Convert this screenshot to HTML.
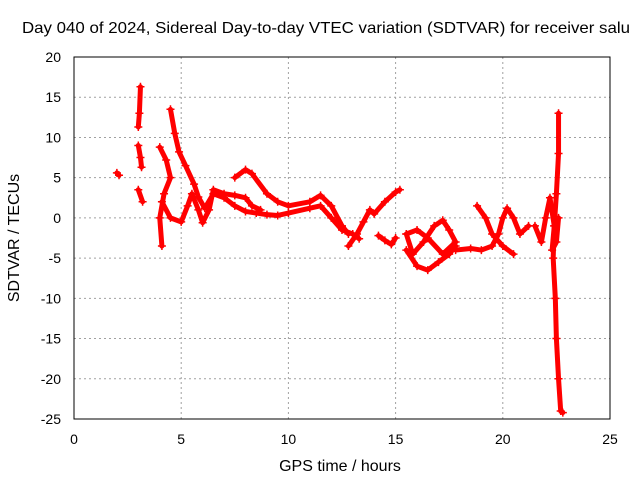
<!DOCTYPE html>
<html><head><meta charset="utf-8"><style>
body{margin:0;background:#fff;}
svg text{font-family:"Liberation Sans",sans-serif;font-size:14px;fill:#000;}
svg text.big{font-size:16px;}
</style></head><body>
<svg width="640" height="480" id="chart" xmlns="http://www.w3.org/2000/svg">
<text class="big" x="22" y="33" textLength="608" lengthAdjust="spacingAndGlyphs">Day 040 of 2024, Sidereal Day-to-day VTEC variation (SDTVAR) for receiver salu</text>
<g id="grid"></g>
<g id="marks"></g>
<rect x="74" y="57" width="536" height="362" fill="none" stroke="#000" stroke-width="1"/>
<g id="ticks"></g>
<text class="big" x="340" y="471" text-anchor="middle">GPS time / hours</text>
<text class="big" transform="translate(19,238) rotate(-90)" text-anchor="middle">SDTVAR / TECUs</text>
</svg>
<script>
const xTicks=[0,5,10,15,20,25];
const yTicks=[20,15,10,5,0,-5,-10,-15,-20,-25];
const track1=[[2.0,5.6],[2.1,5.3]];
const track2=[[3.1,16.3],[3.05,13],[3.0,11.3]];
const track3=[[3.0,9],[3.1,7.5],[3.15,6.3]];
const track4=[[3.0,3.5],[3.2,2]];
const track5=[[4.0,8.8],[4.3,7.2],[4.5,5],[4.2,3],[4.0,0],[4.1,-3.5]];
const track6=[[4.5,13.5],[4.7,10.5],[4.9,8.2],[5.2,6.5],[5.6,4.2],[5.8,2.6],[6.1,1.2],[6.5,3],[7,2.5],[7.5,1.5],[8,0.8],[8.5,0.6],[9,0.4],[9.5,0.3],[10,0.6],[11,1.2],[11.5,1.5],[12,0],[12.5,-1.5],[13,-2],[13.3,-2.6]];
const track7=[[7.5,5],[8,6],[8.3,5.5],[9,3],[9.5,2],[10,1.5],[11,2],[11.5,2.8],[12,1.5],[12.5,-1],[12.8,-2]];
const track8=[[4.1,2],[4.5,0],[5,-0.5],[5.3,1.5],[5.5,3],[5.8,1],[6,-0.6],[6.3,1],[6.5,3.5],[7,3],[7.5,2.8],[8,2.5],[8.3,1.5],[8.7,1]];
const track9=[[12.8,-3.5],[13.2,-2],[13.5,-0.5],[13.8,1],[14,0.5],[14.5,2],[15,3.2],[15.2,3.5]];
const track10=[[14.2,-2.2],[14.5,-2.8],[14.8,-3.3],[15,-2.5]];
const track11=[[15.5,-4],[16,-6],[16.5,-6.5],[17,-5.5],[17.5,-4.5],[17.8,-3.5]];
const track12=[[15.5,-2],[15.8,-4.5],[16.3,-3],[16.8,-1],[17.2,-0.3],[17.5,-1.5],[17.8,-3],[17.2,-4.5],[16.5,-2.5],[16,-1.5],[15.5,-2]];
const track13=[[17.8,-4],[18.5,-3.8],[19,-4],[19.5,-3.5],[19.8,-2],[20,0],[20.2,1.2],[20.5,0],[20.8,-2],[21.2,-1]];
const track14=[[18.8,1.5],[19.2,0],[19.5,-2],[20,-3.5],[20.5,-4.5]];
const track15=[[21.5,-1],[21.8,-3],[22,0],[22.2,2.5],[22.4,-1],[22.3,-4],[22.5,-3],[22.6,0]];
const track16=[[22.6,13],[22.6,8],[22.5,3],[22.4,-1],[22.35,-5],[22.45,-10],[22.5,-15],[22.6,-20],[22.7,-24],[22.8,-24.2]];
const tracks=[track1,track2,track3,track4,track5,track6,track7,track8,track9,track10,track11,track12,track13,track14,track15,track16];
const NS="http://www.w3.org/2000/svg";
const sx=t=>74+t*(536/25);
const sy=v=>57+(20-v)*(362/45);
const grid=document.getElementById('grid'),ticks=document.getElementById('ticks'),marks=document.getElementById('marks');
function mk(tag,attrs,parent){const e=document.createElementNS(NS,tag);for(const k in attrs)e.setAttribute(k,attrs[k]);parent.appendChild(e);return e;}
xTicks.forEach(t=>{
  const x=sx(t);
  if(t>0&&t<25){const g=mk('line',{x1:x,x2:x,y1:57,y2:419,stroke:'#a0a0a0','stroke-dasharray':'2,3'},grid);
  
  }
  const l=mk('text',{x:x,y:444,'text-anchor':'middle'},ticks);l.textContent=t;
  
  
});
yTicks.forEach(v=>{
  const y=sy(v);
  if(v<20&&v>-25){const g=mk('line',{x1:74,x2:610,y1:y,y2:y,stroke:'#a0a0a0','stroke-dasharray':'2,3'},grid);
  
  }
  const l=mk('text',{x:61,y:y+5,'text-anchor':'end'},ticks);l.textContent=v;
  
  
});
tracks.forEach(tr=>{
  const p=mk('polyline',{points:tr.map(d=>sx(d[0])+','+sy(d[1])).join(' '),fill:'none',stroke:'#ff0000','stroke-width':5,'stroke-linejoin':'round','stroke-linecap':'round'},marks);
  
  
  tr.forEach(d=>{
    const x=sx(d[0]),y=sy(d[1]);
    const m=mk('path',{d:`M${x-4},${y}H${x+4}M${x},${y-4}V${y+4}`,stroke:'#ff0000','stroke-width':1.5},marks);
    
    
  });
});
</script>
</body></html>
